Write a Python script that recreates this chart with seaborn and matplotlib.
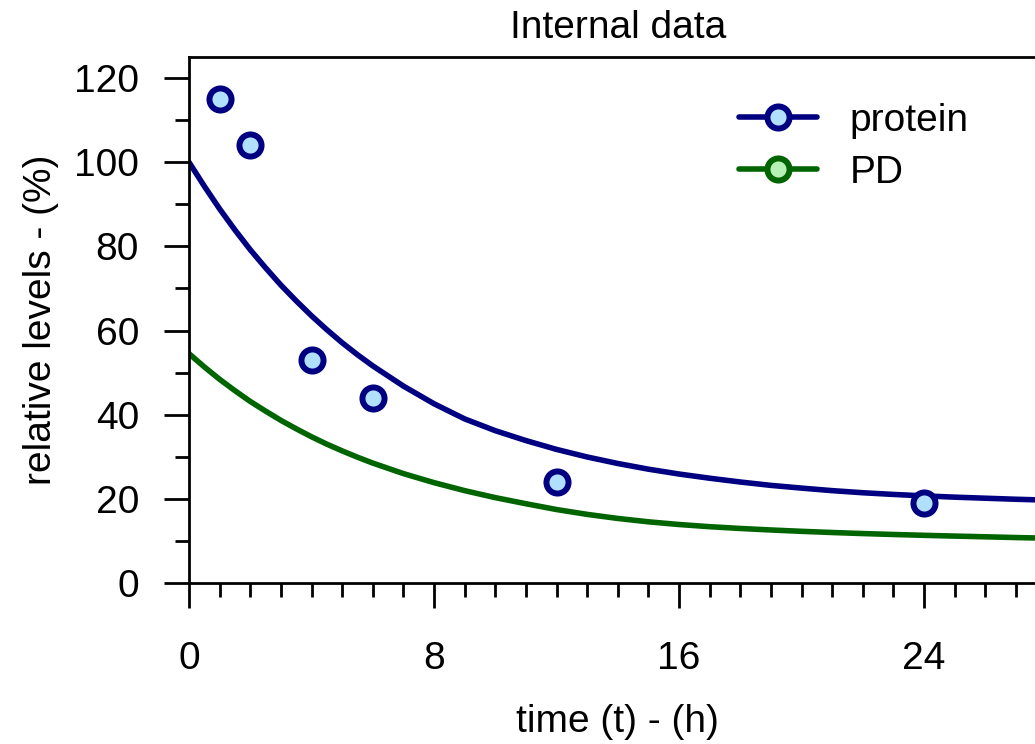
import numpy as np
import pandas as pd
import matplotlib
matplotlib.use("Agg")
import matplotlib.pyplot as plt
from matplotlib.lines import Line2D
from matplotlib.ticker import MultipleLocator
import seaborn as sns

# Fitted model curves (half-hourly up to 6 h, hourly afterwards)
time_h = [0, 0.5, 1, 1.5, 2, 2.5, 3, 3.5, 4, 4.5, 5, 5.5, 6,
          7, 8, 9, 10, 11, 12, 13, 14, 15, 16, 17, 18, 19, 20,
          21, 22, 23, 24, 25, 26, 27, 28]
protein_fit = [100.0, 94.3, 88.9, 83.9, 79.2, 74.9, 70.8, 67.05, 63.5, 60.2,
               57.1, 54.25, 51.6, 46.8, 42.6, 39.0, 36.2, 33.85, 31.75, 29.95,
               28.4, 27.05, 25.9, 24.9, 24.0, 23.2, 22.55, 21.95, 21.45, 21.05,
               20.7, 20.4, 20.15, 19.9, 19.7]
pd_fit = [54.5, 51.35, 48.4, 45.7, 43.15, 40.85, 38.65, 36.65, 34.75, 33.0,
          31.4, 29.9, 28.5, 26.0, 23.85, 21.95, 20.29, 18.84, 17.46, 16.31,
          15.34, 14.54, 13.9, 13.38, 12.96, 12.6, 12.28, 12.0, 11.75, 11.53,
          11.33, 11.15, 10.98, 10.8, 10.65]

# Measured protein levels
obs_time = [1, 2, 4, 6, 12, 24]
obs_protein = [115, 104, 53, 44, 24, 19]

series_names = ["protein", "PD"]
line_colors = ["#000080", "#006400"]
face_colors = ["#b0e0fc", "#b6f0b6"]

sns.set_style("ticks")
plt.rcParams["font.family"] = ["Liberation Sans", "DejaVu Sans"]
plt.rcParams["font.size"] = 28
for key in ["text.color", "axes.labelcolor", "xtick.color", "ytick.color",
            "axes.edgecolor"]:
    plt.rcParams[key] = "black"

fits = pd.DataFrame({
    "time": time_h * 2,
    "level": protein_fit + pd_fit,
    "series": [series_names[0]] * len(time_h) + [series_names[1]] * len(time_h),
})
obs = pd.DataFrame({"time": obs_time, "level": obs_protein})

# The plotting area runs slightly past the right edge of the canvas
fig = plt.figure(figsize=(10.35, 7.44), dpi=100)
ax = fig.add_axes([189 / 1035, 161 / 744, 857.5 / 1035, 526 / 744])

sns.lineplot(data=fits, x="time", y="level", hue="series",
             palette=dict(zip(series_names, line_colors)),
             linewidth=4.0, legend=False, ax=ax)
ax.plot(obs["time"], obs["level"], linestyle="none", marker="o",
        markersize=15.9, markeredgewidth=4.3,
        markeredgecolor=line_colors[0], markerfacecolor=face_colors[0],
        zorder=5, clip_on=False)

ax.set_xlim(0, 28)
ax.set_ylim(0, 125)
ax.xaxis.set_major_locator(MultipleLocator(8))
ax.xaxis.set_minor_locator(MultipleLocator(1))
ax.yaxis.set_major_locator(MultipleLocator(20))
ax.yaxis.set_minor_locator(MultipleLocator(10))
ax.tick_params(which="major", length=18, width=2, direction="out",
               labelsize=28, color="black", labelcolor="black")
ax.tick_params(which="minor", length=10, width=2, direction="out",
               color="black")
ax.tick_params(axis="x", which="major", pad=24)
ax.tick_params(axis="y", which="major", pad=18)

for side in ["left", "bottom", "top"]:
    ax.spines[side].set_linewidth(2)
    ax.spines[side].set_color("black")
ax.spines["right"].set_visible(False)

ax.set_title("Internal data", fontsize=28, pad=14, color="black")
ax.set_xlabel("time (t) - (h)", fontsize=28, labelpad=19, color="black")
ax.set_ylabel("relative levels - (%)", fontsize=28, labelpad=11, color="black")

handles = [
    Line2D([0], [0], color=c, linewidth=4.0, marker="o", markersize=15.9,
           markeredgewidth=4.3, markeredgecolor=c, markerfacecolor=f)
    for c, f in zip(line_colors, face_colors)
]
ax.legend(handles, series_names, loc="upper left",
          bbox_to_anchor=((739 - 189) / 857.5, 0.9124), frameon=False,
          borderpad=0, borderaxespad=0, handlelength=2.0,
          handletextpad=0.85, labelspacing=0.41, fontsize=28)

fig.savefig("out.png", dpi=100)
